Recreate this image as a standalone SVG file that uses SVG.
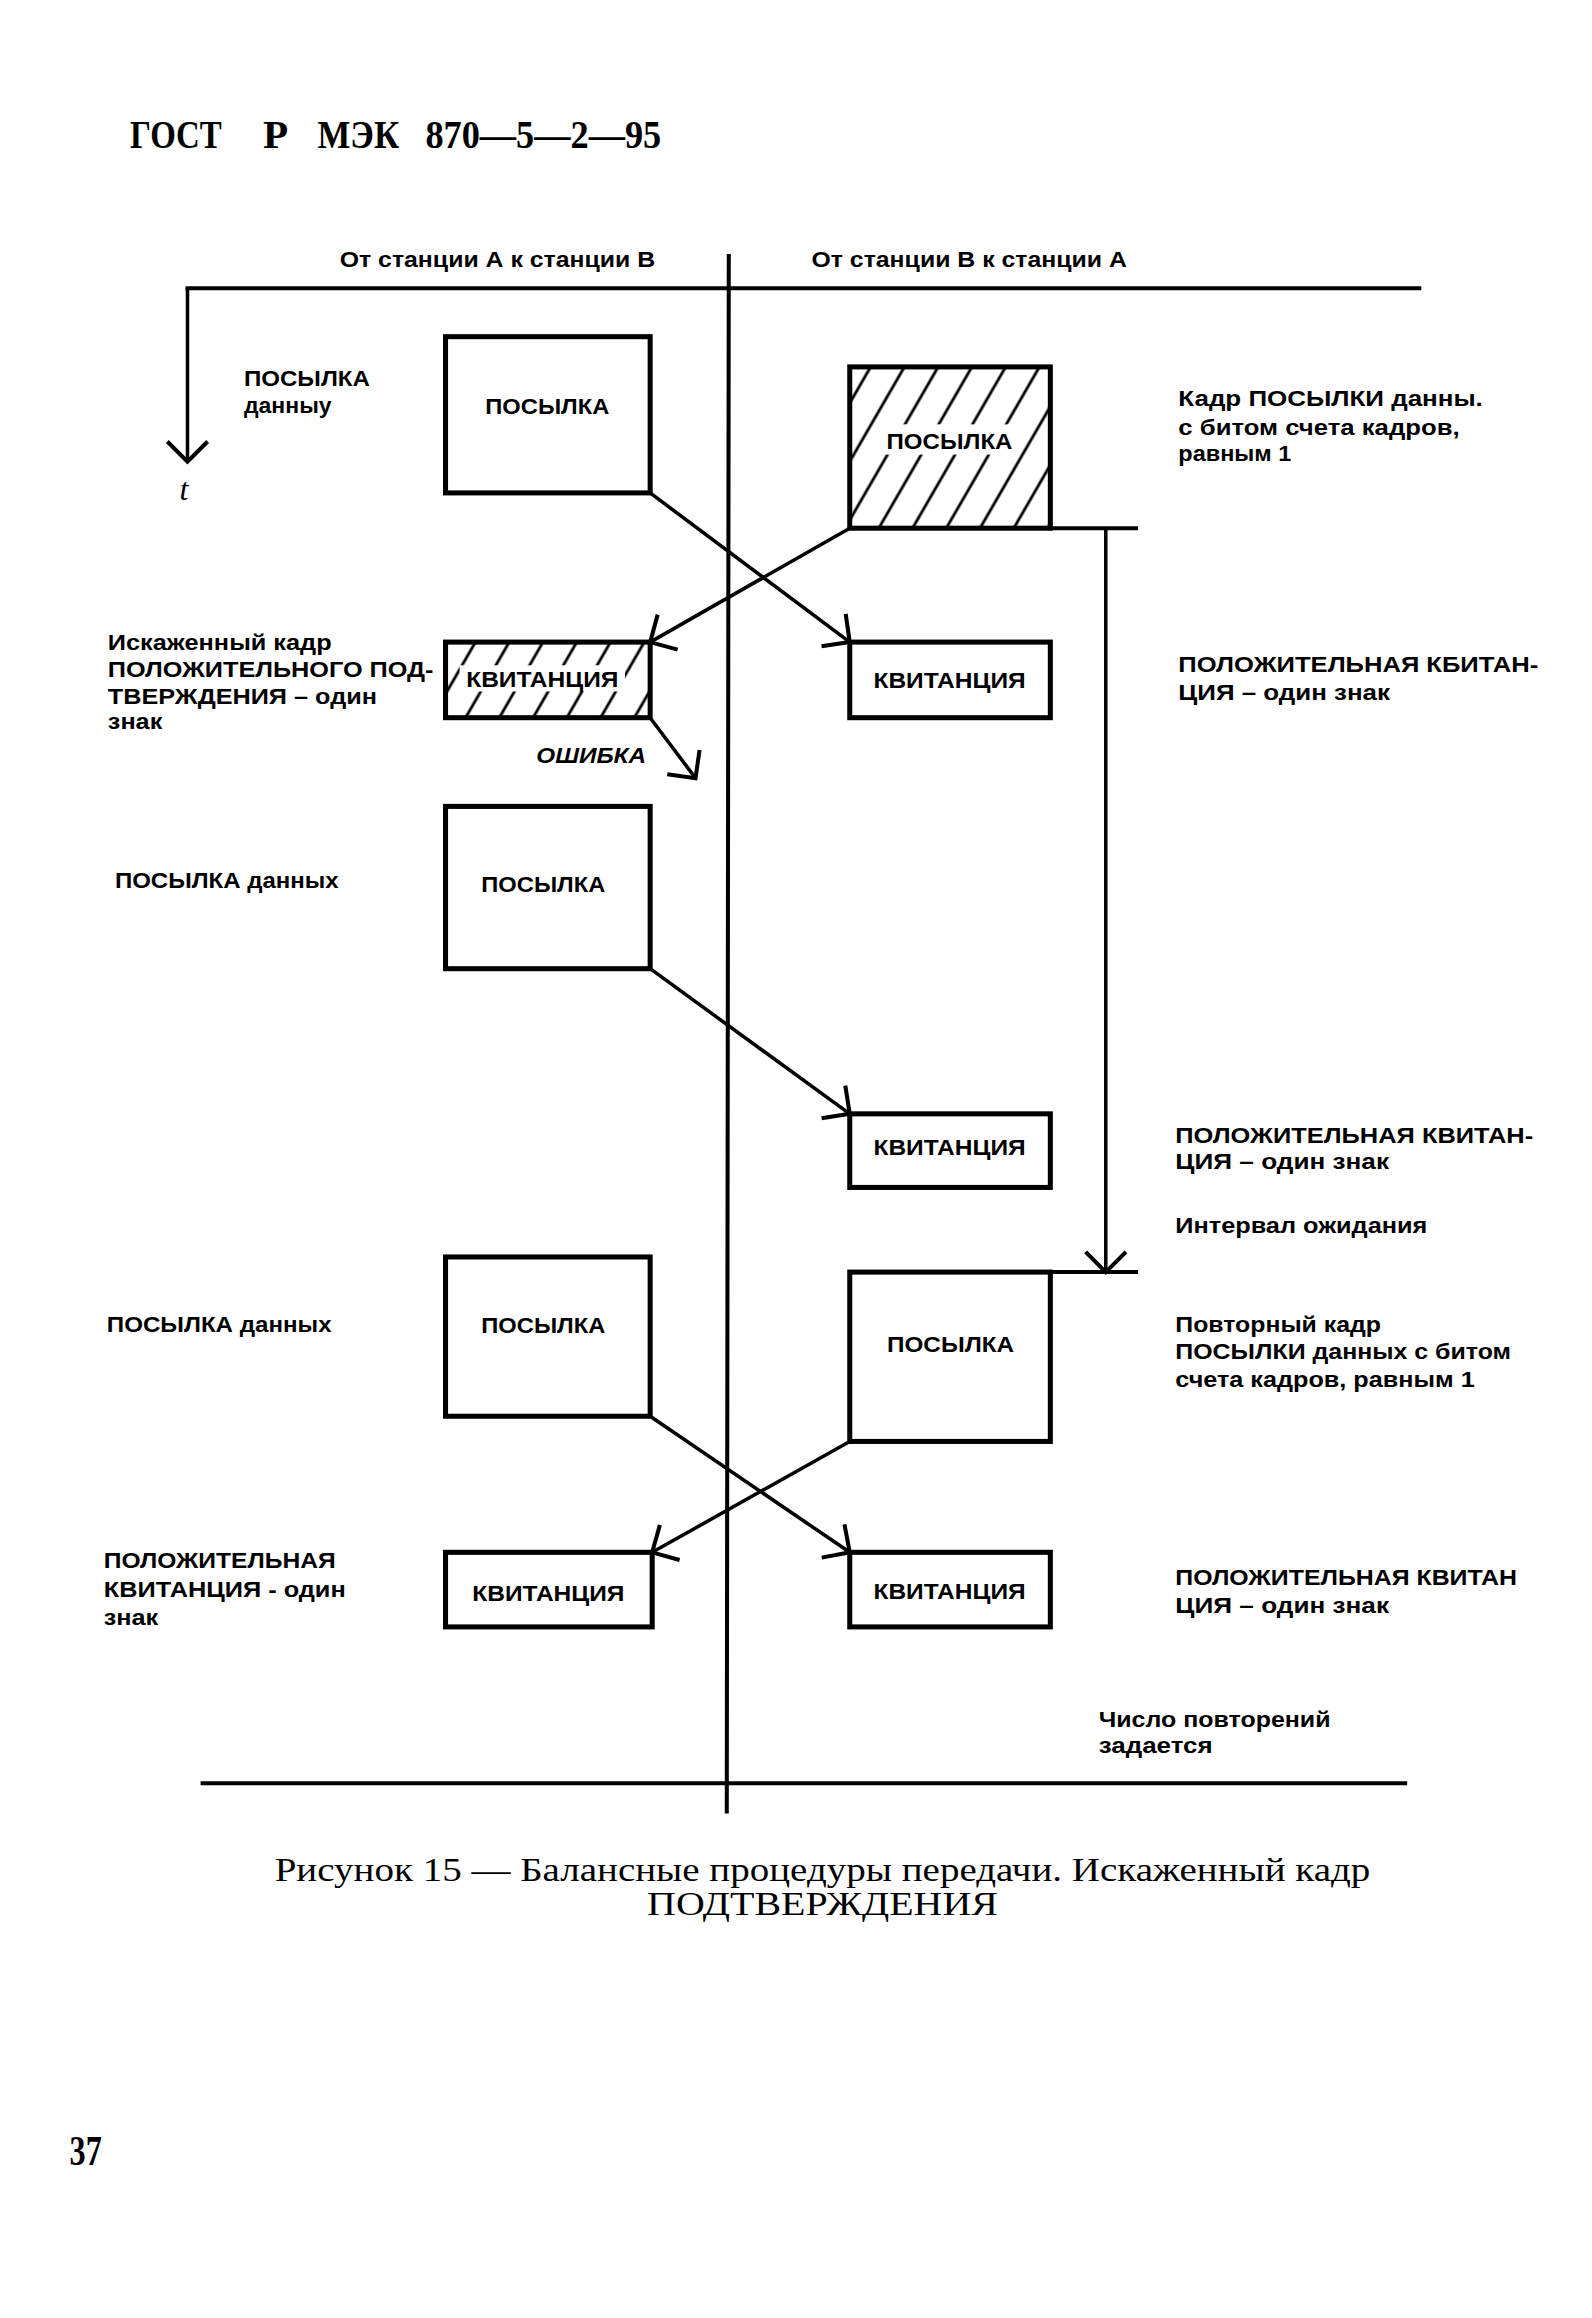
<svg xmlns="http://www.w3.org/2000/svg" width="1592" height="2318" viewBox="0 0 1592 2318">
<style>
.bg{fill:#fff}
.box{fill:none;stroke:#000;stroke-width:5}
.ln{fill:none;stroke:#000;stroke-width:4;stroke-linecap:square}
.arr{fill:none;stroke:#000;stroke-width:3.5;marker-end:url(#ah)}
.t{font-family:"Liberation Sans",Arial,sans-serif;font-weight:bold;font-size:21px;fill:#000}
.c{text-anchor:middle}
.ser{font-family:"Liberation Serif","Times New Roman",serif;fill:#000}
.ttl{font-family:"Liberation Serif","Times New Roman",serif;font-weight:bold;font-size:40px;fill:#000}
</style>
<defs>
<marker id="ah" markerUnits="userSpaceOnUse" viewBox="-26 -26 30 52" markerWidth="30" markerHeight="52" refX="0" refY="0" orient="auto">
<path d="M -20 -20 L 0 0 L -20 20" fill="none" stroke="#000" stroke-width="4" stroke-linejoin="miter"/>
</marker>
<pattern id="hatch" patternUnits="userSpaceOnUse" width="29" height="29" patternTransform="rotate(30)">
<line x1="2" y1="-2" x2="2" y2="31" stroke="#000" stroke-width="2.8"/>
</pattern>
</defs>
<rect class="bg" x="0" y="0" width="1592" height="2318"/>
<g id="page" transform="scale(1.008)">

<g id="title">
<text class="ttl" x="129" y="147" textLength="91" lengthAdjust="spacingAndGlyphs">ГОСТ</text>
<text class="ttl" x="261" y="147" textLength="25" lengthAdjust="spacingAndGlyphs">Р</text>
<text class="ttl" x="315" y="147" textLength="81" lengthAdjust="spacingAndGlyphs">МЭК</text>
<text class="ttl" x="422" y="147" textLength="234" lengthAdjust="spacingAndGlyphs">870—5—2—95</text>
</g>

<g id="frame">
<line class="ln" x1="186" y1="286" x2="1408" y2="286"/>
<line class="ln" x1="723" y1="254" x2="721" y2="1797"/>
<line class="ln" x1="201" y1="1769" x2="1394" y2="1769" stroke-width="3"/>
<text class="t" x="337" y="265" textLength="313" lengthAdjust="spacingAndGlyphs" font-size="20">От станции А к станции В</text>
<text class="t" x="805" y="265" textLength="313" lengthAdjust="spacingAndGlyphs" font-size="20">От станции В к станции А</text>
</g>

<g id="time-axis">
<line class="arr" x1="186" y1="286" x2="186" y2="458"/>
<text class="ser" x="178" y="496" font-size="32" font-style="italic">t</text>
</g>

<g id="send1">
<rect class="box" x="442" y="334" width="203" height="155"/>
<text class="t c" x="543" y="411" textLength="123" lengthAdjust="spacingAndGlyphs">ПОСЫЛКА</text>
<text class="t" x="242" y="383" textLength="125" lengthAdjust="spacingAndGlyphs">ПОСЫЛКА</text>
<text class="t" x="242" y="410" textLength="87" lengthAdjust="spacingAndGlyphs" font-size="19">данныу</text>
</g>

<g id="send-b-hatched">
<rect x="843" y="364" width="199" height="160" fill="url(#hatch)"/>
<rect class="bg" x="872" y="421" width="134" height="30"/>
<rect class="box" x="843" y="364" width="199" height="160"/>
<text class="t c" x="942" y="445" textLength="125" lengthAdjust="spacingAndGlyphs">ПОСЫЛКА</text>
<line class="ln" x1="1042" y1="524" x2="1127" y2="524"/>
<text class="t" x="1169" y="403" textLength="302" lengthAdjust="spacingAndGlyphs">Кадр ПОСЫЛКИ данны.</text>
<text class="t" x="1169" y="432" textLength="279" lengthAdjust="spacingAndGlyphs">с битом счета кадров,</text>
<text class="t" x="1169" y="457" textLength="112" lengthAdjust="spacingAndGlyphs">равным 1</text>
</g>

<g id="ack-a-hatched">
<rect x="442" y="637" width="203" height="75" fill="url(#hatch)"/>
<rect class="bg" x="456" y="660" width="164" height="26"/>
<rect class="box" x="442" y="637" width="203" height="75"/>
<text class="t c" x="538" y="682" textLength="151" lengthAdjust="spacingAndGlyphs">КВИТАНЦИЯ</text>
<text class="t" x="107" y="645" textLength="222" lengthAdjust="spacingAndGlyphs" font-size="20">Искаженный кадр</text>
<text class="t" x="107" y="672" textLength="323" lengthAdjust="spacingAndGlyphs">ПОЛОЖИТЕЛЬНОГО ПОД-</text>
<text class="t" x="107" y="698" textLength="267" lengthAdjust="spacingAndGlyphs">ТВЕРЖДЕНИЯ – один</text>
<text class="t" x="107" y="723" textLength="54" lengthAdjust="spacingAndGlyphs" font-size="19">знак</text>
<text class="t" x="532" y="757" textLength="109" lengthAdjust="spacingAndGlyphs" font-style="italic">ОШИБКА</text>
</g>

<g id="ack-b1">
<rect class="box" x="843" y="637" width="199" height="75"/>
<text class="t c" x="942" y="683" textLength="151" lengthAdjust="spacingAndGlyphs">КВИТАНЦИЯ</text>
<text class="t" x="1169" y="667" textLength="357" lengthAdjust="spacingAndGlyphs">ПОЛОЖИТЕЛЬНАЯ КБИТАН-</text>
<text class="t" x="1169" y="694" textLength="210" lengthAdjust="spacingAndGlyphs">ЦИЯ – один знак</text>
</g>

<g id="send2">
<rect class="box" x="442" y="800" width="203" height="161"/>
<text class="t c" x="539" y="885" textLength="123" lengthAdjust="spacingAndGlyphs">ПОСЫЛКА</text>
<text class="t" x="114" y="881" textLength="222" lengthAdjust="spacingAndGlyphs">ПОСЫЛКА данных</text>
</g>

<g id="ack-b2">
<rect class="box" x="843" y="1105" width="199" height="73"/>
<text class="t c" x="942" y="1146" textLength="151" lengthAdjust="spacingAndGlyphs">КВИТАНЦИЯ</text>
<text class="t" x="1166" y="1134" textLength="355" lengthAdjust="spacingAndGlyphs">ПОЛОЖИТЕЛЬНАЯ КВИТАН-</text>
<text class="t" x="1166" y="1160" textLength="212" lengthAdjust="spacingAndGlyphs">ЦИЯ – один знак</text>
<text class="t" x="1166" y="1223" textLength="250" lengthAdjust="spacingAndGlyphs">Интервал ожидания</text>
</g>

<g id="send3">
<rect class="box" x="442" y="1247" width="203" height="158"/>
<text class="t c" x="539" y="1322" textLength="123" lengthAdjust="spacingAndGlyphs">ПОСЫЛКА</text>
<text class="t" x="106" y="1321" textLength="223" lengthAdjust="spacingAndGlyphs">ПОСЫЛКА данных</text>
</g>

<g id="send-b-repeat">
<rect class="box" x="843" y="1262" width="199" height="168"/>
<text class="t c" x="943" y="1341" textLength="126" lengthAdjust="spacingAndGlyphs">ПОСЫЛКА</text>
<line class="ln" x1="1042" y1="1262" x2="1127" y2="1262"/>
<text class="t" x="1166" y="1321" textLength="204" lengthAdjust="spacingAndGlyphs">Повторный кадр</text>
<text class="t" x="1166" y="1348" textLength="333" lengthAdjust="spacingAndGlyphs">ПОСЫЛКИ данных с битом</text>
<text class="t" x="1166" y="1376" textLength="297" lengthAdjust="spacingAndGlyphs">счета кадров, равным 1</text>
</g>

<g id="ack-a4">
<rect class="box" x="442" y="1540" width="205" height="74"/>
<text class="t c" x="544" y="1588" textLength="151" lengthAdjust="spacingAndGlyphs">КВИТАНЦИЯ</text>
<text class="t" x="103" y="1556" textLength="230" lengthAdjust="spacingAndGlyphs">ПОЛОЖИТЕЛЬНАЯ</text>
<text class="t" x="103" y="1584" textLength="240" lengthAdjust="spacingAndGlyphs">КВИТАНЦИЯ - один</text>
<text class="t" x="103" y="1612" textLength="54" lengthAdjust="spacingAndGlyphs" font-size="19">знак</text>
</g>

<g id="ack-b3">
<rect class="box" x="843" y="1540" width="199" height="74"/>
<text class="t c" x="942" y="1586" textLength="151" lengthAdjust="spacingAndGlyphs">КВИТАНЦИЯ</text>
<text class="t" x="1166" y="1572" textLength="339" lengthAdjust="spacingAndGlyphs">ПОЛОЖИТЕЛЬНАЯ КВИТАН</text>
<text class="t" x="1166" y="1600" textLength="212" lengthAdjust="spacingAndGlyphs">ЦИЯ – один знак</text>
</g>

<g id="note-repeat">
<text class="t" x="1090" y="1713" textLength="230" lengthAdjust="spacingAndGlyphs">Число повторений</text>
<text class="t" x="1090" y="1739" textLength="113" lengthAdjust="spacingAndGlyphs">задается</text>
</g>

<g id="connectors">
<line class="arr" x1="645" y1="489" x2="843" y2="637"/>
<line class="arr" x1="843" y1="524" x2="645" y2="637"/>
<line class="arr" x1="645" y1="712" x2="690" y2="772"/>
<line class="arr" x1="645" y1="961" x2="843" y2="1105"/>
<line class="arr" x1="1097" y1="524" x2="1097" y2="1262"/>
<line class="arr" x1="645" y1="1405" x2="843" y2="1540"/>
<line class="arr" x1="843" y1="1430" x2="647" y2="1540"/>
</g>

<text class="ser" x="816" y="1866" font-size="33" text-anchor="middle" textLength="1087" lengthAdjust="spacingAndGlyphs">Рисунок 15 — Балансные процедуры передачи. Искаженный кадр</text>
<text class="ser" x="816" y="1900" font-size="33" text-anchor="middle" textLength="348" lengthAdjust="spacingAndGlyphs">ПОДТВЕРЖДЕНИЯ</text>

<text class="ser" x="69" y="2148" font-size="42" font-weight="bold" textLength="32" lengthAdjust="spacingAndGlyphs">37</text>
</g>
</svg>
